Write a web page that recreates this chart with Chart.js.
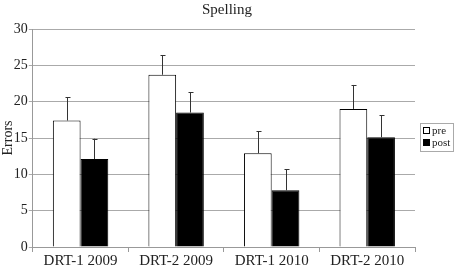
<!DOCTYPE html>
<html>
<head>
<meta charset="utf-8">
<script src="https://cdn.jsdelivr.net/npm/chart.js"></script>
<style>
  html, body { margin: 0; padding: 0; background: #fff; }
  #wrap { width: 454px; height: 270px; }
</style>
</head>
<body>
<div id="wrap"><canvas id="bar"></canvas></div>
<script>
const categories = ["DRT-1 2009", "DRT-2 2009", "DRT-1 2010", "DRT-2 2010"];
const preValues = [17.4, 23.7, 12.9, 19.0];
const postValues = [12.1, 18.5, 7.8, 15.1];
const preErrors = [3.2, 2.7, 3.0, 3.3];
const postErrors = [2.8, 2.8, 2.9, 3.0];

const serif = "'Liberation Serif', 'Times New Roman', serif";

// garis error hanya ke atas, dengan tutup kecil
const errorBars = {
  id: "errorBars",
  afterDatasetsDraw(chart) {
    const ctx = chart.ctx;
    const y = chart.scales.y;
    const errs = [preErrors, postErrors];
    ctx.save();
    ctx.strokeStyle = "#333";
    ctx.lineWidth = 1;
    chart.data.datasets.forEach((ds, i) => {
      const meta = chart.getDatasetMeta(i);
      meta.data.forEach((bar, j) => {
        const x = Math.round(bar.x) + 0.5;
        const top = y.getPixelForValue(ds.data[j] + errs[i][j]);
        ctx.beginPath();
        ctx.moveTo(x, bar.y);
        ctx.lineTo(x, top);
        ctx.moveTo(x - 2, Math.round(top) + 0.5);
        ctx.lineTo(x + 3, Math.round(top) + 0.5);
        ctx.stroke();
      });
    });
    ctx.restore();
  }
};

// legenda kecil berbingkai di kanan
const sideLegend = {
  id: "sideLegend",
  afterDraw(chart) {
    const ctx = chart.ctx;
    const area = chart.chartArea;
    const left = area.right + 5;
    const top = 123;
    const w = 33, h = 28;
    ctx.save();
    ctx.strokeStyle = "#aaa";
    ctx.lineWidth = 1;
    ctx.strokeRect(left + 0.5, top + 0.5, w, h);
    ctx.font = "11px " + serif;
    ctx.textBaseline = "middle";
    chart.data.datasets.forEach((ds, i) => {
      const cy = top + 8 + i * 12;
      ctx.fillStyle = ds.backgroundColor;
      ctx.fillRect(left + 3.5, cy - 3.5, 6, 6);
      ctx.strokeStyle = "#000";
      ctx.strokeRect(left + 3.5, cy - 3.5, 6, 6);
      ctx.fillStyle = "#222";
      ctx.fillText(ds.label, left + 12, cy);
    });
    ctx.restore();
  }
};

const ctx = document.getElementById("bar").getContext("2d");
new Chart(ctx, {
  type: "bar",
  data: {
    labels: categories,
    datasets: [
      {
        label: "pre",
        data: preValues,
        backgroundColor: "#ffffff",
        borderColor: "#000000",
        borderWidth: 1,
        borderSkipped: "bottom",
      },
      {
        label: "post",
        data: postValues,
        backgroundColor: "#000000",
        borderColor: "#000000",
        borderWidth: 1,
        borderSkipped: "bottom",
      },
    ],
  },
  options: {
    responsive: true,
    maintainAspectRatio: false,
    animation: false,
    layout: { padding: { left: 0, right: 0, top: 0, bottom: 0 } },
    datasets: { bar: { categoryPercentage: 0.58, barPercentage: 1.0 } },
    plugins: {
      title: {
        display: true,
        text: "Spelling",
        color: "#222",
        font: { family: serif, size: 15, weight: "normal" },
        padding: { top: 1, bottom: 10 },
      },
      legend: { display: false },
      tooltip: { enabled: false },
    },
    scales: {
      x: {
        grid: {
          offset: true,
          drawOnChartArea: false,
          drawTicks: true,
          tickLength: 5,
          color: "#999",
        },
        border: { color: "#999" },
        ticks: {
          color: "#222",
          font: { family: serif, size: 15 },
          padding: 0,
        },
      },
      y: {
        min: 0,
        max: 30,
        ticks: {
          stepSize: 5,
          color: "#222",
          font: { family: serif, size: 14 },
          padding: 1,
        },
        grid: { color: "#aaa", tickLength: 4 },
        border: { color: "#999" },
        title: {
          display: true,
          text: "Errors",
          color: "#222",
          font: { family: serif, size: 14 },
          padding: { top: 0, bottom: -4 },
        },
      },
      // sumbu kosong di kanan, memberi ruang untuk legenda
      yRight: {
        position: "right",
        display: true,
        min: 0,
        max: 30,
        grid: { display: false },
        border: { display: false },
        ticks: { display: false },
        afterFit(scale) {
          scale.width = 39;
        },
      },
    },
  },
  plugins: [errorBars, sideLegend],
});
</script>
</body>
</html>
